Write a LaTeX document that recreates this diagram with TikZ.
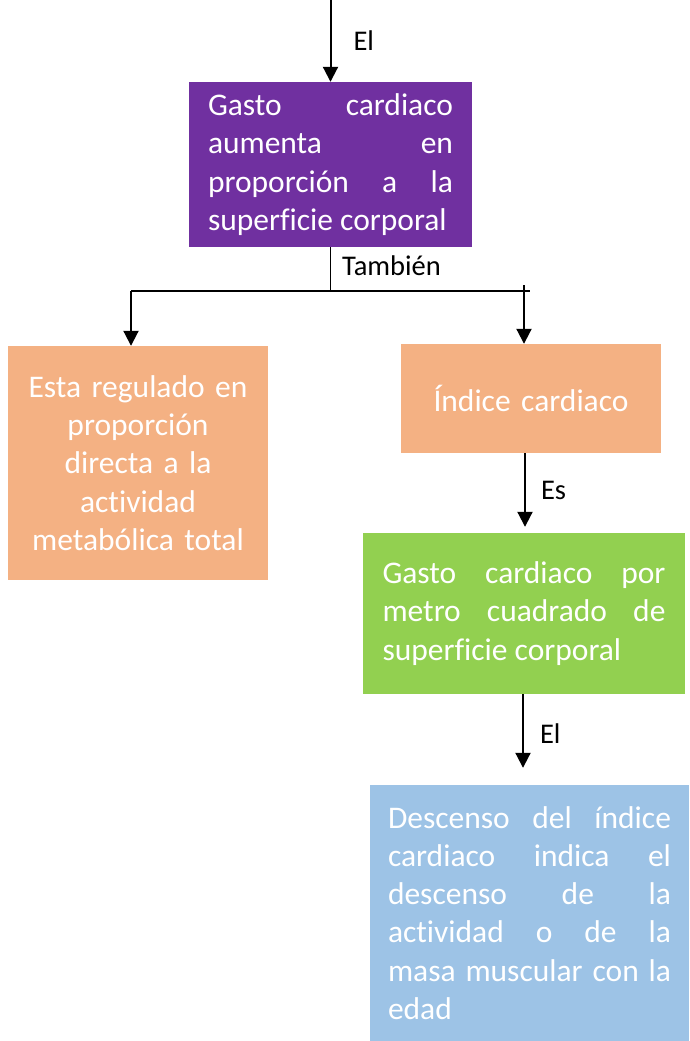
\documentclass[tikz,border=0pt]{standalone}
\usepackage{fontspec}
\setmainfont{Carlito}[Ligatures=NoCommon]
\usepackage{xcolor}
\usetikzlibrary{positioning, arrows.meta}
\definecolor{morado}{HTML}{7030A0}
\definecolor{naranja}{HTML}{F4B183}
\definecolor{verde}{HTML}{92D050}
\definecolor{celeste}{HTML}{9DC3E6}

\begin{document}
\begin{tikzpicture}[x=1pt, y=-1pt, font=\fontsize{31.5}{38.3}\selectfont]
    \tikzstyle{caja}=[rectangle, inner sep=0pt, text=white]
    \tikzstyle{flecha}=[-{Triangle[length=15pt,width=15pt]}, line width=2pt]
    \tikzstyle{rama}=[line width=1.3pt]
    \tikzstyle{etiqueta}=[anchor=west, inner sep=0pt, font=\fontsize{28.5}{34}\selectfont]
    \useasboundingbox (0,0) rectangle (689,1041);
    \node[caja, fill=morado, minimum width=283pt, minimum height=165pt, text width=245pt, align=justify] (gasto) at (330.5,164.5) {Gasto\hfill cardiaco\\ aumenta\hfill en\\ proporción\hfill a\hfill la\\ superficie corporal};
    \node[caja, fill=naranja, minimum width=260pt, minimum height=234pt, text width=250pt, align=center] (regulado) at (138,463) {Esta regulado en\\ proporción\\ directa a la\\ actividad\\ metabólica total};
    \node[caja, fill=naranja, minimum width=260pt, minimum height=109pt, text width=250pt, align=center] (indice) at (531,398.5) {Índice cardiaco};
    \node[caja, fill=verde, minimum width=322pt, minimum height=161pt, text width=283pt, align=justify] (porm2) at (524,613.5) {Gasto\hfill cardiaco\hfill por\\ metro\hfill cuadrado\hfill de\\ superficie corporal};
    \node[caja, fill=celeste, minimum width=319pt, minimum height=256pt, text width=283pt, align=justify] (descenso) at (529.5,913) {Descenso\hfill del\hfill índice\\ cardiaco\hfill indica\hfill el\\ descenso\hfill de\hfill la\\ actividad\hfill o\hfill de\hfill la\\ masa\hfill muscular\hfill con\hfill la\\ edad};
    \coordinate (inicio) at (330.5,0);
    \coordinate (cruce) at (330.5,291);
    \coordinate (ramaizq) at (131,291);
    \coordinate (ramader) at (530,291);
    \coordinate (subida) at (524,285);
    \draw[flecha] (inicio) -- (gasto.north) node[etiqueta, midway, xshift=22pt] {El};
    \draw[rama] (gasto.south) -- (cruce) node[etiqueta, midway, xshift=11pt, yshift=3pt] {También};
    \draw[rama] (ramaizq) -- (ramader);
    \draw[flecha] (ramaizq) -- (ramaizq |- regulado.north);
    \draw[flecha] (subida) -- (subida |- indice.north);
    \draw[flecha, shorten >=6pt] ([xshift=-6pt]indice.south) -- ([xshift=-6pt]indice.south |- porm2.north) node[etiqueta, midway, xshift=15pt, yshift=3pt] {Es};
    \draw[flecha, shorten >=17pt] ([xshift=-1pt]porm2.south) -- ([xshift=-1pt]porm2.south |- descenso.north) node[etiqueta, midway, xshift=16pt, yshift=6pt] {El};
\end{tikzpicture}
\end{document}
